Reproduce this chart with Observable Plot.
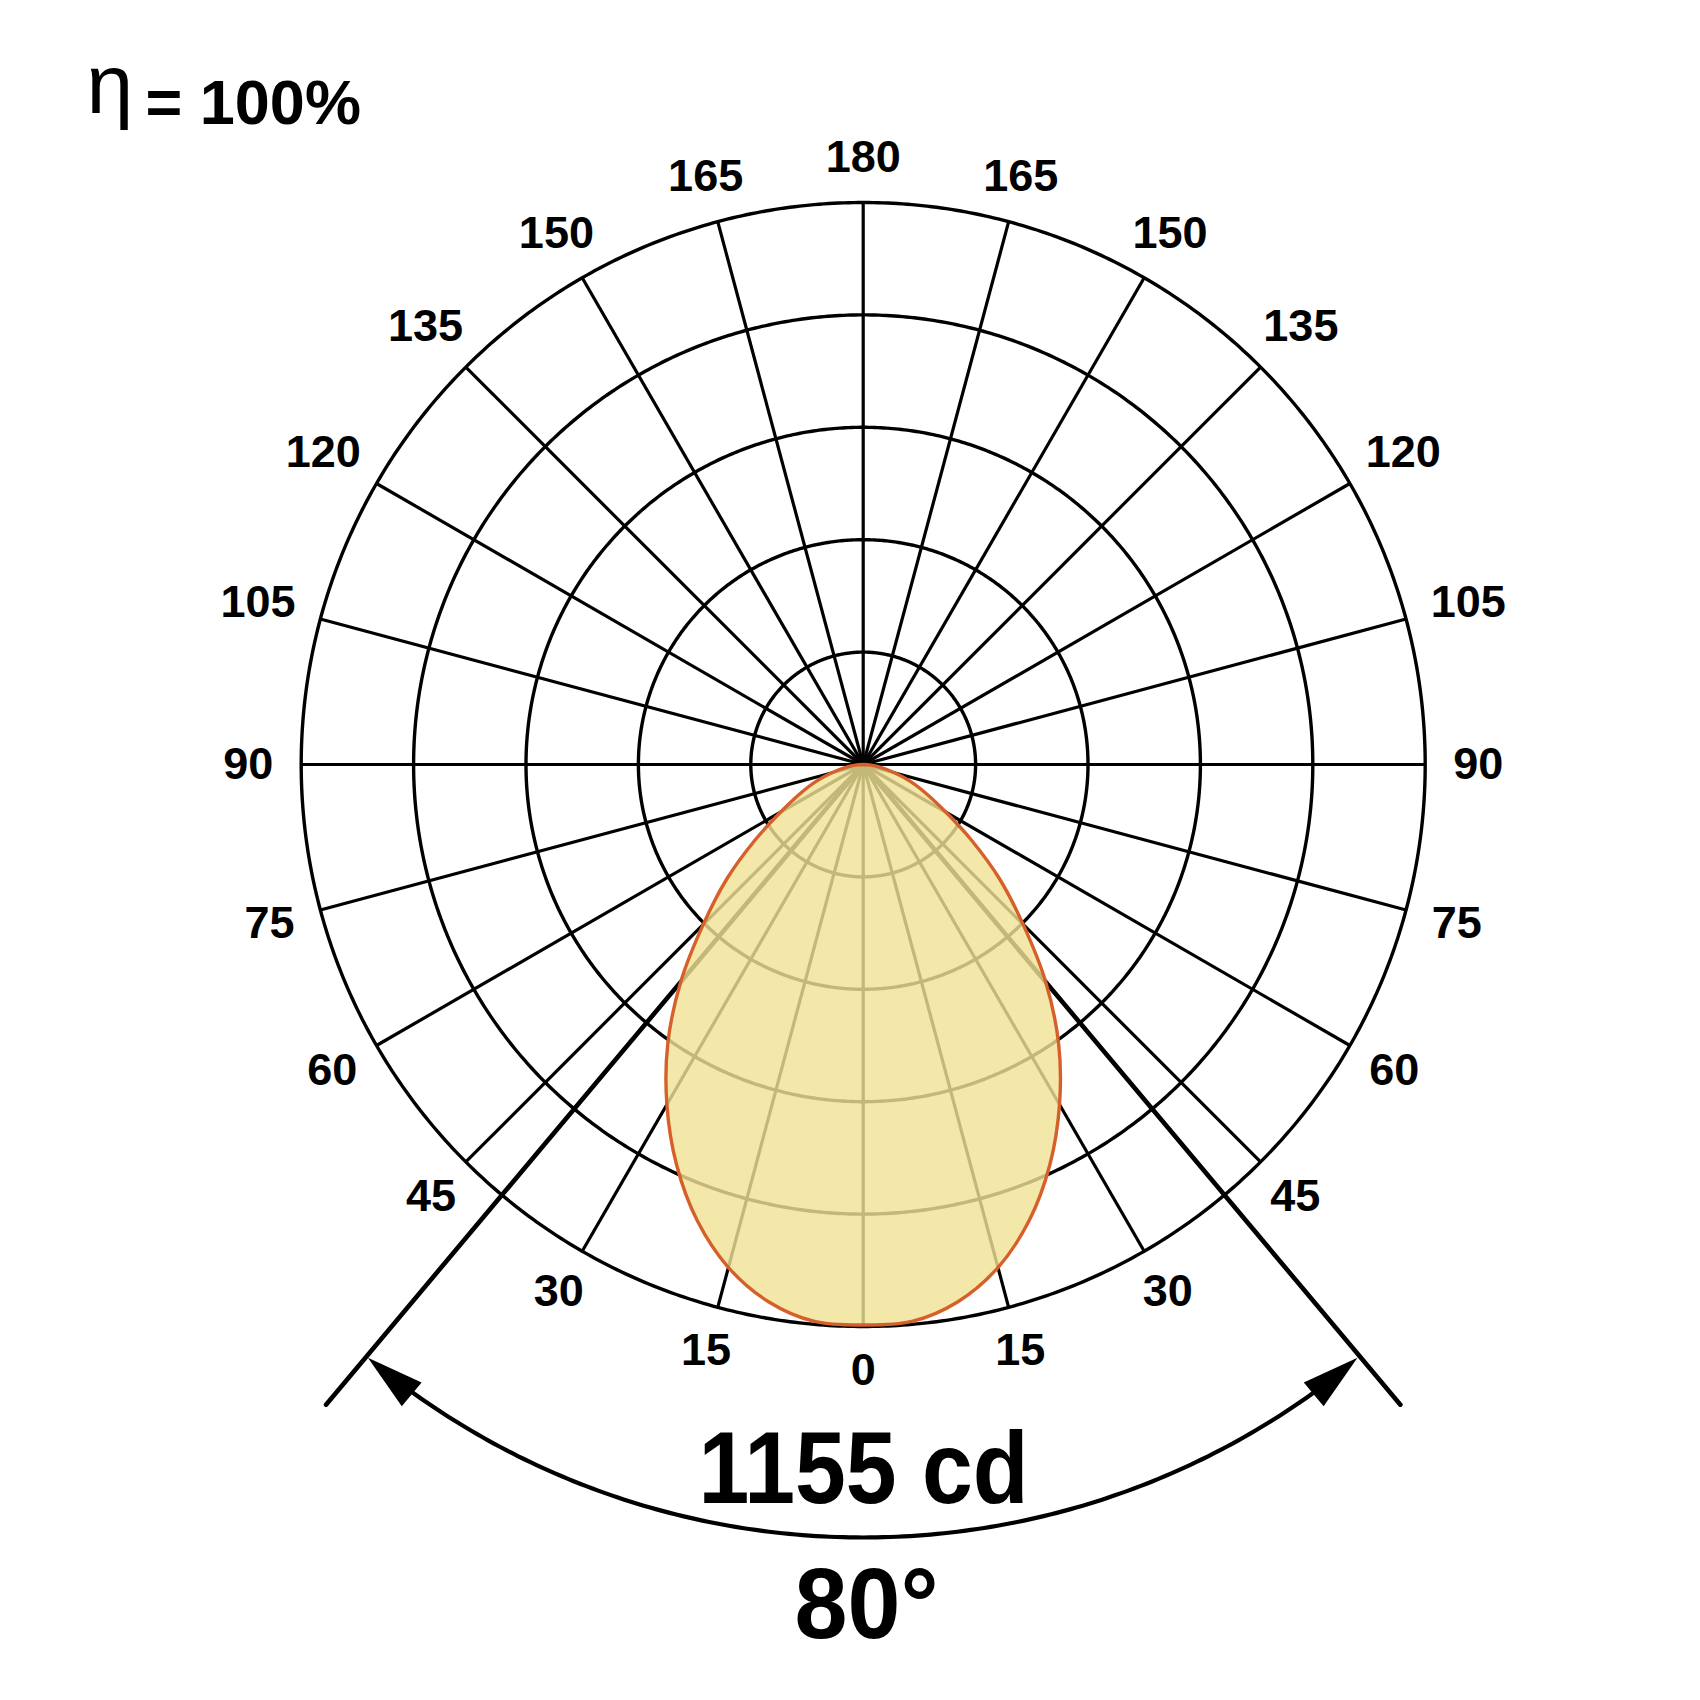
<!DOCTYPE html>
<html>
<head>
<meta charset="utf-8">
<script src="https://cdn.jsdelivr.net/npm/d3@7"></script>
<script src="https://cdn.jsdelivr.net/npm/@observablehq/plot@0.6"></script>
<style>
  html, body { margin: 0; padding: 0; background: #fff; }
  #chart svg { display: block; }
</style>
</head>
<body>
<div id="chart"></div>
<script>
// ================= DATA =================
// Polar angles (deg from nadir) of the luminous-intensity curve (symmetric about 0)
const angles    = [0, 5, 10, 15, 20, 25, 30, 35, 40, 45, 50, 55, 60, 65, 70, 75, 80, 85, 90];
// Luminous intensity (cd)
const intensity = [1155, 1152, 1124, 1073, 1000, 910, 809, 702, 585, 466, 367, 273, 197, 145, 105, 68, 38, 16, 0];
// Angle tick labels around the diagram
const tickAngles = [0, 15, 30, 45, 60, 75, 90, 105, 120, 135, 150, 165, 180];
// Concentric grid rings (fraction of full scale)
const ringFractions = [0.2, 0.4, 0.6, 0.8, 1.0];
// Full-scale intensity of the outer ring (cd)
const scaleMax = 1158;
// Beam angle (deg) and peak intensity (cd)
const beamAngle = 80;
const peakCd = 1155;
// Efficiency
const etaSymbol = "η";
const efficiencyText = "= 100%";

// ================= GEOMETRY =================
const W = 1700, H = 1700;
const cx = 862.7, cy = 764, Rpx = 562;       // pixel centre and outer radius
const k = Rpx / scaleMax;                    // pixels per cd
const rad = d => d * Math.PI / 180;
const polar = (deg, r) => ({x: r * Math.sin(rad(deg)), y: r * Math.cos(rad(deg))});

// rings
const ringPts = ringFractions.flatMap(f =>
  d3.range(0, 360.25, 0.5).map(a => ({...polar(a, f * scaleMax), ring: f})));

// spokes every 15°
const spokes = d3.range(0, 360, 15).map(a => polar(a, scaleMax));

// angle labels: placed at a constant gap outside the ring (bounding-ellipse model)
const labelFont = 45, labelGap = 28, halfH = 16.5;
const labels = tickAngles.flatMap(a =>
  (a === 0 || a === 180) ? [{a: a, s: 1}] : [{a: a, s: -1}, {a: a, s: 1}]
).map(d => {
  const t = String(d.a);
  const th = rad(d.s * d.a);
  const halfW = t.length * 0.556 * labelFont / 2;
  const ext = Math.hypot(Math.sin(th) * halfW, Math.cos(th) * halfH);
  const rr = (Rpx + labelGap + ext) / k;
  return {...polar(d.s * d.a, rr), text: t};
});

// lobe (mirrored about 0°)
const half = angles.map((a, i) => ({a, I: intensity[i]}));
const lobe = [
  ...half.slice().reverse().map(d => ({a: -d.a, I: d.I})),
  ...half.slice(1)
].map(d => polar(d.a, d.I));

// beam-angle lines
const beamHalf = beamAngle / 2;
const beamLines = [-beamHalf, beamHalf].map(a => polar(a, 1.487 * scaleMax));

// arc with arrowheads
const arcR = 1.3754 * scaleMax;
const arcPts = d3.range(-beamHalf + 3, beamHalf - 3 + 0.01, 0.5).map(a => polar(a, arcR));
const headL = 57 / k, headW = 31 / k;
const arrowPts = [-1, 1].flatMap(s => {
  const th = rad(s * (beamHalf - 0.2));
  const P = polar(s * (beamHalf - 0.2), arcR);
  const t = {x: s * Math.cos(th), y: -s * Math.sin(th)};
  const n = {x: Math.sin(th), y: Math.cos(th)};
  const B = {x: P.x - headL * t.x, y: P.y - headL * t.y};
  return [
    {x: B.x + headW / 2 * n.x, y: B.y + headW / 2 * n.y, tx: P.x, ty: P.y, side: s},
    {x: B.x - headW / 2 * n.x, y: B.y - headW / 2 * n.y, tx: P.x, ty: P.y, side: s}
  ];
});

const font = "'Liberation Sans', Arial, Helvetica, sans-serif";
const peakText = `${peakCd} cd`;
const beamText = `${beamAngle}°`;

const chart = Plot.plot({
  width: W,
  height: H,
  margin: 0,
  axis: null,
  x: {domain: [-cx / k, (W - cx) / k], range: [0, W]},
  y: {domain: [-cy / k, (H - cy) / k], range: [0, H]},
  style: {background: "#fff", fontFamily: font},
  marks: [
    // grid rings
    Plot.line(ringPts, {x: "x", y: "y", z: "ring", stroke: "#000", strokeWidth: 3.4}),
    // spokes
    Plot.link(spokes, {x1: () => 0, y1: () => 0, x2: "x", y2: "y", stroke: "#000", strokeWidth: 3.2}),
    // beam-angle lines
    Plot.link(beamLines, {x1: () => 0, y1: () => 0, x2: "x", y2: "y", stroke: "#000", strokeWidth: 4.6, strokeLinecap: "round"}),
    // lobe fill (translucent so the grid shows through)
    Plot.area(lobe, {x1: "x", y1: "y", x2: () => 0, y2: () => 0, fill: "rgb(240,225,149)", fillOpacity: 0.81, curve: "catmull-rom"}),
    // lobe outline
    Plot.line(lobe, {x: "x", y: "y", stroke: "#d6602a", strokeWidth: 3.4, curve: "catmull-rom"}),
    // arc
    Plot.line(arcPts, {x: "x", y: "y", stroke: "#000", strokeWidth: 4.2}),
    // arrowheads
    Plot.area(arrowPts, {x1: "x", y1: "y", x2: "tx", y2: "ty", z: "side", fill: "#000"}),
    // angle labels
    Plot.text(labels, {x: "x", y: "y", text: "text", fontSize: labelFont, fontWeight: "bold", fill: "#000", fontFamily: font, textAnchor: "middle", lineAnchor: "middle"}),
    // peak intensity
    Plot.text([peakText], {text: d => d, frameAnchor: "top-left", dx: 863, dy: 1502, lineAnchor: "bottom", textAnchor: "middle", fontSize: 102, fontWeight: "bold", fill: "#000", fontFamily: font}),
    // beam angle
    Plot.text([beamText], {text: d => d, frameAnchor: "top-left", dx: 866, dy: 1637, lineAnchor: "bottom", textAnchor: "middle", fontSize: 100, fontWeight: "bold", fill: "#000", fontFamily: font}),
    // efficiency
    Plot.text([etaSymbol], {text: d => d, frameAnchor: "top-left", dx: 86, dy: 112, lineAnchor: "bottom", textAnchor: "start", fontSize: 84, fontWeight: "normal", fill: "#000", fontFamily: font}),
    Plot.text([efficiencyText], {text: d => d, frameAnchor: "top-left", dx: 145, dy: 123, lineAnchor: "bottom", textAnchor: "start", fontSize: 63, fontWeight: "bold", fill: "#000", fontFamily: font})
  ]
});

// the reference uses a slightly condensed bold face for the two big captions
chart.querySelectorAll("text").forEach(el => {
  if (el.textContent === peakText) { el.setAttribute("textLength", 330); el.setAttribute("lengthAdjust", "spacingAndGlyphs"); }
  if (el.textContent === beamText) { el.setAttribute("textLength", 144); el.setAttribute("lengthAdjust", "spacingAndGlyphs"); }
});

document.getElementById("chart").appendChild(chart);
</script>
</body>
</html>
